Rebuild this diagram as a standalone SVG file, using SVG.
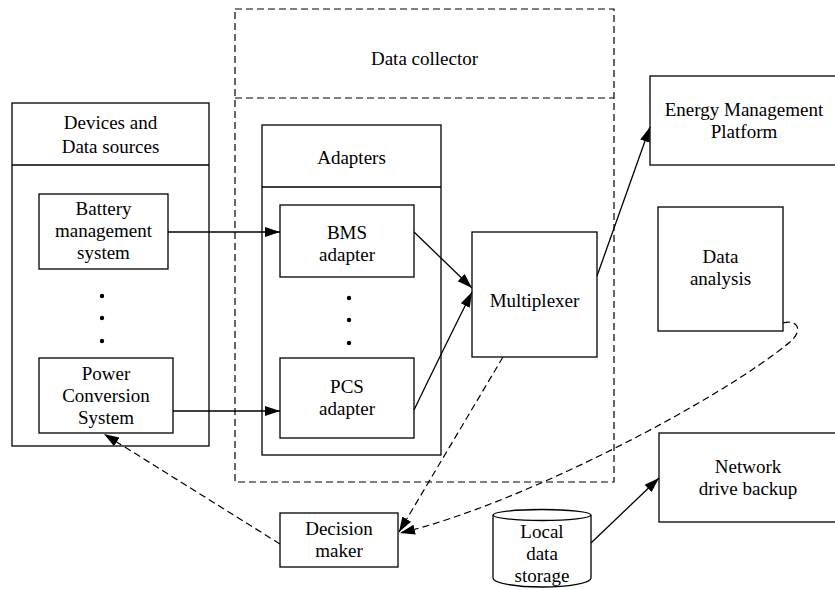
<svg xmlns="http://www.w3.org/2000/svg" width="835" height="590" viewBox="0 0 835 590" font-family="'Liberation Serif', 'Times New Roman', 'DejaVu Serif', serif">
<style>
.b{fill:#fff;stroke:#000;stroke-width:1.3}
.d{fill:none;stroke:#000;stroke-width:1.2;stroke-dasharray:7,4}
.l{fill:none;stroke:#000;stroke-width:1.3}
.ld{fill:none;stroke:#000;stroke-width:1.2;stroke-dasharray:7,4}
text{font-family:'Liberation Serif','Times New Roman','DejaVu Serif',serif;font-size:19px;fill:#000;text-anchor:middle}
</style>
<defs>
<marker id="ah" markerUnits="userSpaceOnUse" markerWidth="16" markerHeight="12" viewBox="0 0 16 12" refX="15" refY="6" orient="auto">
<path d="M0,1 L15,6 L0,11 Z" fill="#000" stroke="none"/>
</marker>
</defs>
<rect width="835" height="590" fill="#fff"/>

<g id="devices">
<rect class="b" x="12" y="103" width="197" height="343"/>
<line class="l" x1="12" y1="165" x2="209" y2="165"/>
<text x="110.5" y="129">Devices and</text>
<text x="110.5" y="153">Data sources</text>
<circle cx="102" cy="296" r="2.2"/>
<circle cx="102" cy="318" r="2.2"/>
<circle cx="102" cy="341" r="2.2"/>
</g>
<g id="bms">
<rect class="b" x="39" y="194" width="129" height="75"/>
<text x="103.5" y="215">Battery</text>
<text x="103.5" y="237">management</text>
<text x="103.5" y="259">system</text>
</g>
<g id="pcs">
<rect class="b" x="39" y="358" width="134" height="75"/>
<text x="106" y="380">Power</text>
<text x="106" y="402">Conversion</text>
<text x="106" y="424">System</text>
</g>

<g id="collector">
<rect class="d" x="235" y="9" width="379" height="473"/>
<line class="d" x1="235" y1="98" x2="614" y2="98"/>
<text x="424.5" y="65">Data collector</text>
</g>
<g id="adapters">
<rect class="b" x="262" y="125" width="179" height="330"/>
<line class="l" x1="262" y1="187" x2="441" y2="187"/>
<text x="351.5" y="164">Adapters</text>
<circle cx="349" cy="298" r="2.2"/>
<circle cx="349" cy="320" r="2.2"/>
<circle cx="349" cy="343" r="2.2"/>
</g>
<g id="bms-adapter">
<rect class="b" x="280" y="205" width="134" height="72"/>
<text x="347" y="239">BMS</text>
<text x="347" y="261">adapter</text>
</g>
<g id="pcs-adapter">
<rect class="b" x="280" y="358" width="134" height="80"/>
<text x="347" y="393">PCS</text>
<text x="347" y="415">adapter</text>
</g>
<g id="multiplexer">
<rect class="b" x="472" y="232" width="125" height="125"/>
<text x="534.5" y="307">Multiplexer</text>
</g>

<g id="emp">
<rect class="b" x="650" y="76" width="188" height="89"/>
<text x="744" y="116">Energy Management</text>
<text x="744" y="138">Platform</text>
</g>
<g id="analysis">
<rect class="b" x="658" y="207" width="125" height="124"/>
<text x="720.5" y="263">Data</text>
<text x="720.5" y="285">analysis</text>
</g>
<g id="network">
<rect class="b" x="659" y="433" width="178" height="89"/>
<text x="748" y="473">Network</text>
<text x="748" y="495">drive backup</text>
</g>
<g id="decision">
<rect class="b" x="280" y="513" width="118" height="54"/>
<text x="339" y="535">Decision</text>
<text x="339" y="557">maker</text>
</g>
<g id="storage">
<path class="b" d="M493,515 L493,578 A49,9 0 0 0 591,578 L591,515"/>
<ellipse class="b" cx="542" cy="515" rx="49" ry="5.5"/>
<text x="542" y="538">Local</text>
<text x="542" y="560">data</text>
<text x="542" y="582">storage</text>
</g>

<g id="connectors">
<line class="l" x1="168" y1="232" x2="280" y2="232" marker-end="url(#ah)"/>
<line class="l" x1="173" y1="411" x2="280" y2="411" marker-end="url(#ah)"/>
<line class="l" x1="414" y1="232" x2="472" y2="288" marker-end="url(#ah)"/>
<path class="l" d="M414,410 Q440,356 472,292" marker-end="url(#ah)"/>
<line class="l" x1="597" y1="276" x2="650" y2="127" marker-end="url(#ah)"/>
<line class="l" x1="591" y1="543" x2="659" y2="478" marker-end="url(#ah)"/>
<line class="ld" x1="503" y1="357" x2="399" y2="532" marker-end="url(#ah)"/>
<path class="ld" d="M783,323 C797,319 804,330 790,342 C720,400 520,505 400,533" marker-end="url(#ah)"/>
<line class="ld" x1="280" y1="544" x2="104" y2="434" marker-end="url(#ah)"/>
</g>
</svg>
